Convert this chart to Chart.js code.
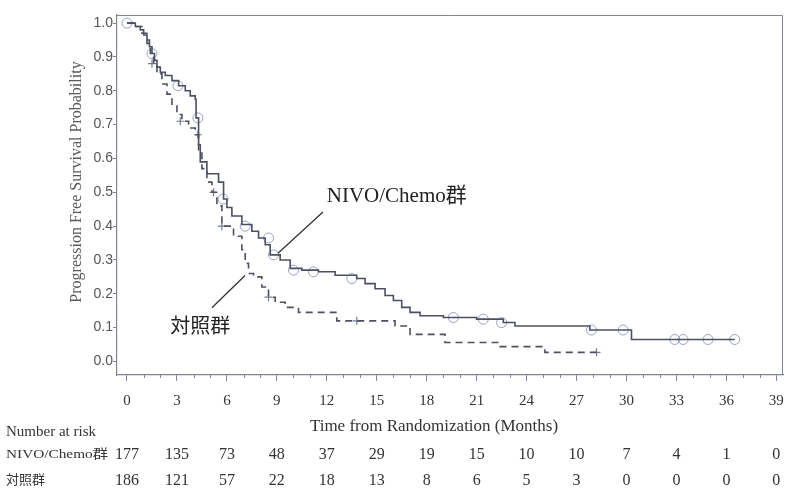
<!DOCTYPE html>
<html>
<head>
<meta charset="utf-8">
<script src="https://cdn.jsdelivr.net/npm/chart.js@4"></script>
<style>
  html, body { margin: 0; padding: 0; background: #fff; }
  #wrap { width: 785px; height: 489px; }
</style>
</head>
<body>
<div id="wrap"><canvas id="km" width="785" height="489"></canvas></div>
<script>
// KM curve for NIVO/Chemo (time in months, survival probability after each step)
const nivoTime = [0, 0.5, 0.8, 1.0, 1.2, 1.35, 1.5, 1.65, 1.8, 2.0, 2.3, 2.7, 3.1, 3.5, 3.8, 4.1,
  4.15, 4.3, 4.4, 4.8, 5.5, 5.8, 6.0, 6.3, 6.9, 7.5, 7.9, 8.3, 8.6, 9.2, 9.8, 10.5, 11.5, 12.5,
  13.8, 14.3, 14.9, 15.5, 16.0, 16.5, 17.0, 17.6, 19.0, 21.0, 22.6, 23.3, 27.8, 30.3, 36.5];
const nivoSurv = [1.0, 0.99, 0.98, 0.965, 0.95, 0.93, 0.91, 0.89, 0.87, 0.855, 0.845, 0.83, 0.815, 0.80, 0.785, 0.775,
  0.72, 0.64, 0.59, 0.555, 0.53, 0.48, 0.455, 0.43, 0.405, 0.385, 0.365, 0.345, 0.315, 0.30, 0.275, 0.27, 0.265, 0.255,
  0.245, 0.23, 0.215, 0.195, 0.18, 0.16, 0.145, 0.135, 0.13, 0.125, 0.115, 0.105, 0.093, 0.065, 0.065];

// KM curve for control arm
const ctrlTime = [0, 0.5, 0.9, 1.2, 1.4, 1.6, 1.8, 2.1, 2.4, 2.7, 3.0, 3.3, 3.7, 4.1, 4.3, 4.5, 4.8, 5.1,
  5.4, 5.7, 6.4, 6.9, 7.1, 7.3, 7.6, 8.1, 8.5, 8.9, 9.5, 10.3, 12.6, 16.1, 17.0, 19.1, 22.4, 25.1, 28.2];
const ctrlSurv = [1.0, 0.99, 0.97, 0.94, 0.91, 0.88, 0.85, 0.82, 0.79, 0.76, 0.73, 0.71, 0.69, 0.67, 0.62, 0.57, 0.53, 0.50,
  0.46, 0.40, 0.37, 0.33, 0.29, 0.26, 0.25, 0.22, 0.19, 0.175, 0.16, 0.145, 0.12, 0.105, 0.08, 0.056, 0.044, 0.027, 0.027];

// censor marks
const nivoCensTime = [0, 1.5, 3.06, 4.26, 5.77, 7.1, 8.5, 8.8, 10.0, 11.2, 13.5, 19.6, 21.4, 22.5, 27.9, 29.8, 32.9, 33.4, 34.9, 36.5];
const nivoCensSurv = [1.0, 0.91, 0.815, 0.72, 0.48, 0.40, 0.365, 0.315, 0.27, 0.265, 0.245, 0.13, 0.125, 0.115, 0.093, 0.093, 0.065, 0.065, 0.065, 0.065];
const ctrlCensTime = [1.5, 3.2, 4.26, 5.2, 5.7, 8.5, 13.8, 28.2];
const ctrlCensSurv = [0.88, 0.71, 0.67, 0.50, 0.40, 0.19, 0.12, 0.027];

// number at risk table
const riskTimes = [0, 3, 6, 9, 12, 15, 18, 21, 24, 27, 30, 33, 36, 39];
const nivoRisk = [177, 135, 73, 48, 37, 29, 19, 15, 10, 10, 7, 4, 1, 0];
const ctrlRisk = [186, 121, 57, 22, 18, 13, 8, 6, 5, 3, 0, 0, 0, 0];

const serif = "'Liberation Serif', 'Noto Sans CJK JP', serif";
const lineCol = '#4d5062';
const circCol = '#9aa0c4';
const axisCol = '#80849a';

const pts = (xs, ys) => xs.map((x, i) => ({x: x, y: ys[i]}));

// box on top/right, minor ticks, labels, annotations and risk table
const extras = {
  id: 'extras',
  afterDraw(chart) {
    const {ctx, chartArea: a, scales: {x, y}} = chart;
    ctx.save();
    ctx.strokeStyle = axisCol;
    ctx.lineWidth = 1;
    ctx.beginPath();
    ctx.moveTo(a.left, a.top + 0.5);
    ctx.lineTo(a.right - 0.5, a.top + 0.5);
    ctx.lineTo(a.right - 0.5, a.bottom);
    ctx.stroke();

    // minor ticks every month
    ctx.beginPath();
    for (let m = 0; m <= 39; m++) {
      if (m % 3 === 0) continue;
      const px = Math.round(x.getPixelForValue(m)) + 0.5;
      ctx.moveTo(px, a.bottom);
      ctx.lineTo(px, a.bottom + 3);
    }
    ctx.stroke();

    // y title
    ctx.fillStyle = '#5a5a5a';
    ctx.font = '16px ' + serif;
    ctx.textAlign = 'center';
    ctx.textBaseline = 'middle';
    ctx.save();
    ctx.translate(77, 182);
    ctx.rotate(-Math.PI / 2);
    ctx.fillText('Progression Free Survival Probability', 0, 0);
    ctx.restore();

    // x title
    ctx.fillStyle = '#333';
    ctx.font = '17px ' + serif;
    ctx.fillText('Time from Randomization (Months)', 434, 427);

    // annotations
    ctx.strokeStyle = '#333';
    ctx.lineWidth = 1.3;
    ctx.beginPath();
    ctx.moveTo(x.getPixelForValue(9.07), y.getPixelForValue(0.32));
    ctx.lineTo(x.getPixelForValue(11.77), y.getPixelForValue(0.442));
    ctx.moveTo(x.getPixelForValue(5.1), y.getPixelForValue(0.159));
    ctx.lineTo(x.getPixelForValue(7.09), y.getPixelForValue(0.254));
    ctx.stroke();
    ctx.fillStyle = '#222';
    ctx.font = '21px ' + serif;
    ctx.textAlign = 'left';
    ctx.fillText('NIVO/Chemo群', x.getPixelForValue(12.0), y.getPixelForValue(0.487));
    ctx.font = "20px 'Noto Sans CJK JP', sans-serif";
    ctx.fillText('対照群', x.getPixelForValue(2.6), y.getPixelForValue(0.106));

    // risk table
    ctx.fillStyle = '#333';
    ctx.font = '15px ' + serif;
    ctx.fillText('Number at risk', 6, 432);
    ctx.font = '13px ' + serif;
    const lab = 'NIVO/Chemo群';
    const w = ctx.measureText(lab).width;
    ctx.save();
    ctx.translate(6, 455);
    ctx.scale(102 / w, 1);
    ctx.fillText(lab, 0, 0);
    ctx.restore();
    ctx.fillText('対照群', 6, 481);
    ctx.font = '16px ' + serif;
    ctx.textAlign = 'center';
    riskTimes.forEach((t, i) => {
      const px = x.getPixelForValue(t);
      ctx.fillText(String(nivoRisk[i]), px, 455);
      ctx.fillText(String(ctrlRisk[i]), px, 481);
    });
    ctx.restore();
  }
};

new Chart(document.getElementById('km'), {
  type: 'scatter',
  data: {
    datasets: [
      {
        label: 'NIVO/Chemo群',
        type: 'line',
        data: pts(nivoTime, nivoSurv),
        stepped: 'before',
        borderColor: lineCol,
        borderWidth: 1.6,
        pointRadius: 0,
        fill: false
      },
      {
        label: '対照群',
        type: 'line',
        data: pts(ctrlTime, ctrlSurv),
        stepped: 'before',
        borderColor: lineCol,
        borderWidth: 1.6,
        borderDash: [7, 5],
        pointRadius: 0,
        fill: false
      },
      {
        label: 'NIVO censored',
        data: pts(nivoCensTime, nivoCensSurv),
        pointStyle: 'circle',
        pointRadius: 5,
        borderColor: circCol,
        borderWidth: 1,
        backgroundColor: 'rgba(0,0,0,0)'
      },
      {
        label: 'control censored',
        data: pts(ctrlCensTime, ctrlCensSurv),
        pointStyle: 'cross',
        pointRadius: 4,
        borderColor: '#777b92',
        borderWidth: 1.2
      }
    ]
  },
  options: {
    responsive: false,
    animation: false,
    layout: {autoPadding: false, padding: {top: 15, right: 2, left: 0, bottom: 0}},
    plugins: {
      legend: {display: false},
      tooltip: {enabled: false}
    },
    scales: {
      x: {
        type: 'linear',
        min: -0.6,
        max: 39.4,
        afterFit: s => { s.height = 114; s.paddingLeft = 0; s.paddingRight = 0; },
        border: {display: true, color: axisCol, width: 1.2},
        grid: {drawOnChartArea: false, drawTicks: true, tickLength: 6, color: axisCol},
        ticks: {
          stepSize: 3,
          includeBounds: false,
          autoSkip: false,
          maxRotation: 0,
          padding: 11,
          color: '#333',
          font: {family: serif, size: 15}
        }
      },
      y: {
        min: -0.04,
        max: 1.024,
        afterFit: s => { s.width = 117; s.paddingTop = 0; s.paddingBottom = 0; },
        border: {display: true, color: axisCol, width: 1.2},
        grid: {drawOnChartArea: false, drawTicks: true, tickLength: 4, color: axisCol},
        ticks: {
          stepSize: 0.1,
          includeBounds: false,
          padding: 0,
          color: '#555',
          font: {family: "'Liberation Sans', sans-serif", size: 14},
          callback: v => v.toFixed(1)
        }
      }
    }
  },
  plugins: [extras]
});
</script>
</body>
</html>
